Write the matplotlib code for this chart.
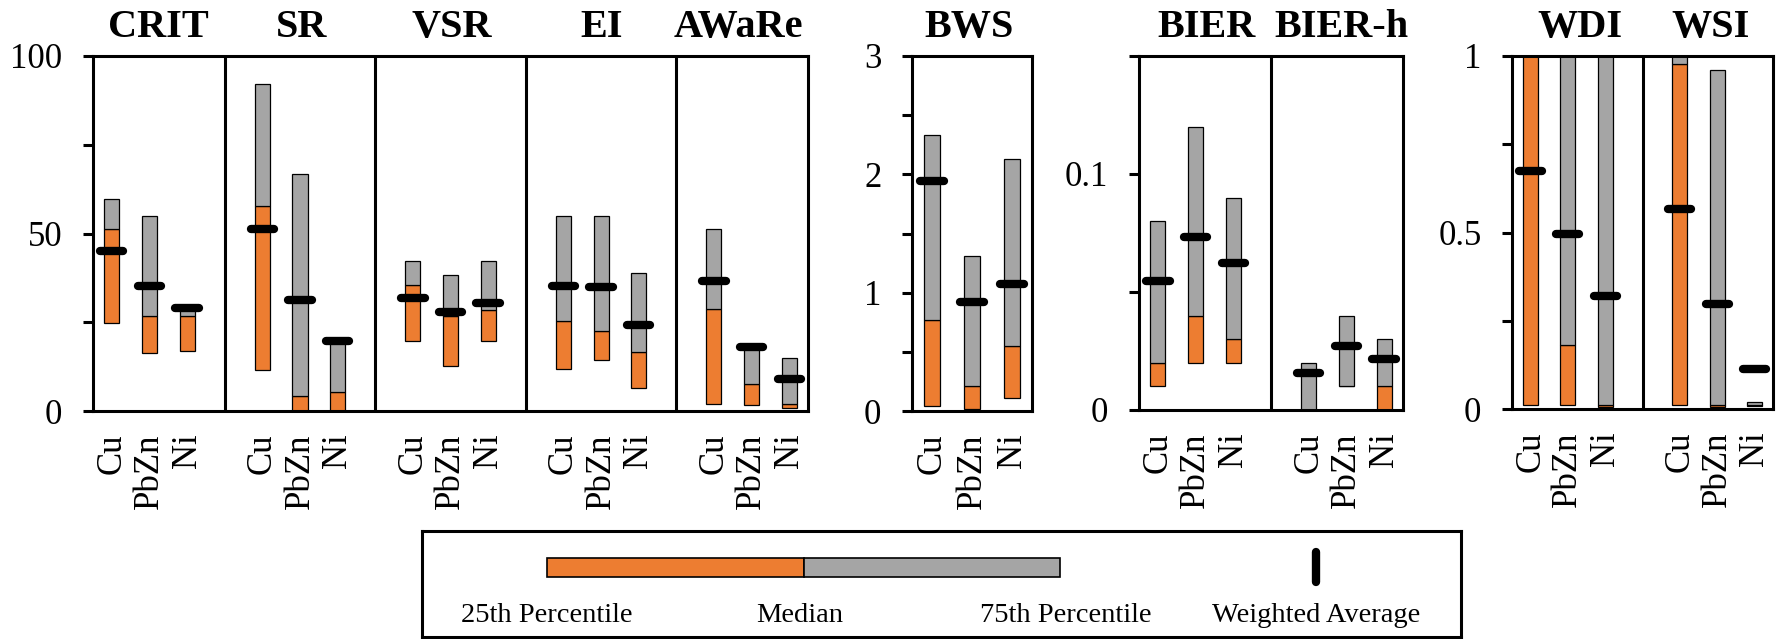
import matplotlib
matplotlib.use("Agg")
import matplotlib.pyplot as plt

plt.rcParams['font.family'] = ['Liberation Serif', 'DejaVu Serif']

metals = ['Cu', 'PbZn', 'Ni']

# panel A: CRIT, SR, VSR, EI, AWaRe (0-100)
a_names = ['CRIT', 'SR', 'VSR', 'EI', 'AWaRe']
a_p25 = [24.9, 16.2, 16.9, 11.6, 0.0, 0.0, 19.7, 12.8, 19.7, 11.8, 14.4, 6.4, 2.1, 1.8, 0.8]
a_med = [51.3, 26.9, 26.9, 57.7, 4.3, 5.4, 35.5, 26.8, 28.5, 25.4, 22.5, 16.7, 28.6, 7.6, 1.9]
a_p75 = [59.7, 54.9, 28.5, 92.1, 66.9, 19.1, 42.3, 38.4, 42.3, 55.0, 55.0, 38.8, 51.2, 18.1, 14.8]
a_wavg = [45.1, 35.2, 28.9, 51.4, 31.2, 19.8, 31.7, 27.8, 30.3, 35.2, 35.0, 24.2, 36.7, 18.1, 9.0]

# panel B: BWS
b_names = ['BWS']
b_p25 = [0.04, 0.02, 0.11]
b_med = [0.77, 0.21, 0.55]
b_p75 = [2.33, 1.31, 2.13]
b_wavg = [1.94, 0.92, 1.07]

# panel C: BIER, BIER-h
c_names = ['BIER', 'BIER-h']
c_p25 = [0.010, 0.020, 0.020, 0.0, 0.010, 0.0]
c_med = [0.020, 0.040, 0.030, 0.0, 0.010, 0.010]
c_p75 = [0.080, 0.120, 0.090, 0.020, 0.040, 0.030]
c_wavg = [0.0546, 0.0734, 0.0621, 0.0155, 0.027, 0.0216]

# panel D: WDI, WSI
d_names = ['WDI', 'WSI']
d_p25 = [0.01, 0.01, 0.005, 0.01, 0.005, 0.008]
d_med = [1.0, 0.18, 0.01, 0.976, 0.01, 0.012]
d_p75 = [1.0, 1.0, 1.0, 1.0, 0.959, 0.019]
d_wavg = [0.673, 0.496, 0.321, 0.566, 0.297, 0.112]

legend_labels = ['25th Percentile', 'Median', '75th Percentile', 'Weighted Average']

ORANGE = '#ED7D31'
GREY = '#A5A5A5'
W, H = 1779, 639
LW = 2.2

fig = plt.figure(figsize=(W / 100, H / 100), dpi=100)


def px_axes(l, r, t, b):
    return fig.add_axes([l / W, 1 - b / H, (r - l) / W, (b - t) / H])


def draw_panel(ax, names, p25, med, p75, wavg, ylim, yticks, ylabels):
    n = len(names)
    xs, labels = [], []
    for g in range(n):
        for m, metal in enumerate(metals):
            xs.append(g * 4 + m)
            labels.append(metal)
    lo = [m - a for a, m in zip(p25, med)]
    hi = [b - m for m, b in zip(med, p75)]
    ax.bar(xs, lo, bottom=p25, width=0.4, color=ORANGE, edgecolor='black', linewidth=0.9, zorder=2)
    ax.bar(xs, hi, bottom=med, width=0.4, color=GREY, edgecolor='black', linewidth=0.9, zorder=2)
    for x, w in zip(xs, wavg):
        ax.plot([x - 0.31, x + 0.31], [w, w], color='black', lw=6, solid_capstyle='round', zorder=4)
    for g in range(n - 1):
        ax.axvline(g * 4 + 3, color='black', lw=LW, zorder=3)
    ax.set_xlim(-0.5, (n - 1) * 4 + 2.5)
    ax.set_ylim(*ylim)
    ax.set_xticks(xs)
    ax.set_xticklabels(labels, rotation=90, fontsize=25)
    ax.tick_params(axis='x', length=0, pad=16)
    ax.set_yticks(yticks)
    ax.set_yticklabels(ylabels, fontsize=25)
    ax.tick_params(axis='y', length=7, width=LW, pad=15)
    for s in ax.spines.values():
        s.set_linewidth(LW)


ax1 = px_axes(93, 808, 56, 411)
draw_panel(ax1, a_names, a_p25, a_med, a_p75, a_wavg, (0, 100),
           [0, 25, 50, 75, 100], ['0', '', '50', '', '100'])
ax2 = px_axes(912, 1032, 56, 411)
draw_panel(ax2, b_names, b_p25, b_med, b_p75, b_wavg, (0, 3),
           [0, 0.5, 1, 1.5, 2, 2.5, 3], ['0', '', '1', '', '2', '', '3'])
ax3 = px_axes(1139, 1403, 56, 410)
draw_panel(ax3, c_names, c_p25, c_med, c_p75, c_wavg, (0, 0.15),
           [0, 0.05, 0.1, 0.15], ['0', '', '0.1', ''])
ax4 = px_axes(1512, 1773, 56, 409)
draw_panel(ax4, d_names, d_p25, d_med, d_p75, d_wavg, (0, 1),
           [0, 0.25, 0.5, 0.75, 1], ['0', '', '0.5', '', '1'])

# panel titles
titles = a_names + b_names + c_names + d_names
title_px = [158, 302, 452, 602, 738, 969, 1206, 1341, 1580, 1711]
for t, x in zip(titles, title_px):
    fig.text(x / W, 1 - 37 / H, t, ha='center', va='baseline', fontsize=29, fontweight='bold')

# legend box (pixel coordinates inside)
lg = px_axes(422, 1461, 531, 637)
lg.set_xlim(422, 1461)
lg.set_ylim(637, 531)
lg.set_xticks([])
lg.set_yticks([])
for s in lg.spines.values():
    s.set_linewidth(2.2)
lg.barh(567.5, 256.5, left=547, height=19.5, color=ORANGE, edgecolor='black', linewidth=1.2)
lg.barh(567.5, 256.5, left=803.5, height=19.5, color=GREY, edgecolor='black', linewidth=1.2)
lg.plot([1316, 1316], [552, 582], color='black', lw=6, solid_capstyle='round')
for lab, x in zip(legend_labels, [547, 800, 1066, 1316]):
    lg.text(x, 621.5, lab, ha='center', va='baseline', fontsize=20.5)

fig.savefig('out.png', dpi=100)
